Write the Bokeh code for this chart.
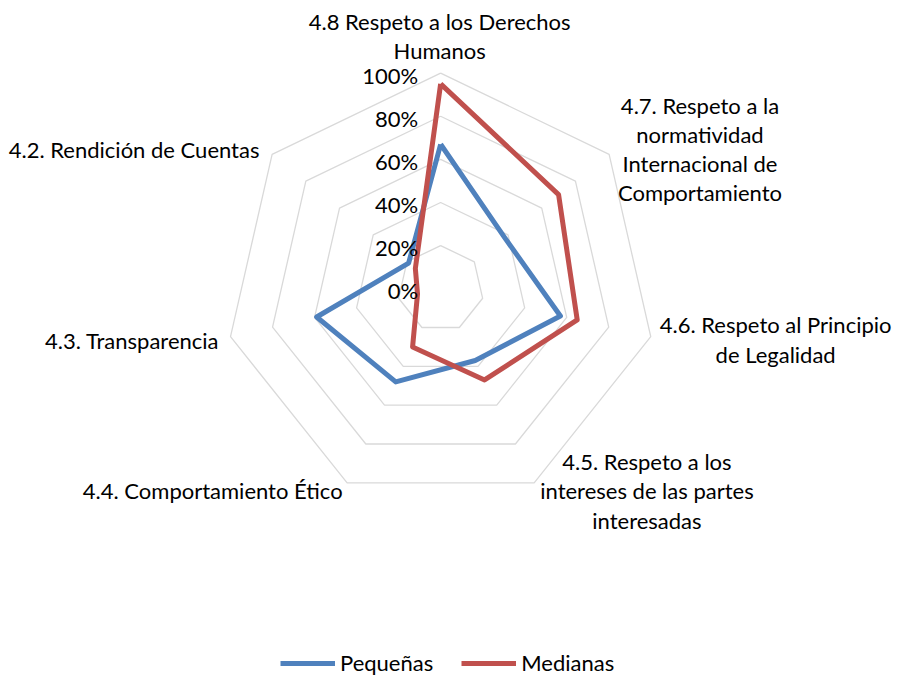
import math
from bokeh.plotting import figure
from bokeh.models import Legend, LegendItem
from bokeh.core.properties import value
from bokeh.embed import file_html
from bokeh.resources import INLINE

# ---- data ----
categories = [
    "4.8 Respeto a los Derechos\nHumanos",
    "4.7. Respeto a la\nnormatividad\nInternacional de\nComportamiento",
    "4.6. Respeto al Principio\nde Legalidad",
    "4.5. Respeto a los\nintereses de las partes\ninteresadas",
    "4.4. Comportamiento Ético",
    "4.3. Transparencia",
    "4.2. Rendición de Cuentas",
]
pequenas = [67, 38, 57, 37, 48, 59, 19]
medianas = [95, 70, 65, 47, 30, 11, 15]
tick_values = [0, 20, 40, 60, 80, 100]
tick_labels = ["0%", "20%", "40%", "60%", "80%", "100%"]
series_names = ["Pequeñas", "Medianas"]

# ---- layout / style ----
W, H = 895, 676
KX, KY = W / 911, H / 692
SCALE = 2.2 * (KX + KY) / 2     # px per percent
CXF, CYF = 448 * KX, 295 * KY   # centre in figure pixels
FONT = "Lato"
FS = "22px"
BLUE = "#4F81BD"
RED = "#C0504D"
GRID = "#D9D9D9"

def px(x, y):
    fx, fy = x * KX, y * KY
    return (fx - CXF) / SCALE, (CYF - fy) / SCALE

p = figure(width=W, height=H,
           x_range=(-CXF / SCALE, (W - CXF) / SCALE),
           y_range=((CYF - H) / SCALE, CYF / SCALE),
           output_backend="svg", toolbar_location=None,
           x_axis_location=None, y_axis_location=None, min_border=0)
p.outline_line_color = None
p.xgrid.visible = False
p.ygrid.visible = False

n = len(categories)
angles = [math.pi / 2 - 2 * math.pi * i / n for i in range(n)]

# grid rings
for t in tick_values[1:]:
    xs = [t * math.cos(a) for a in angles] + [t * math.cos(angles[0])]
    ys = [t * math.sin(a) for a in angles] + [t * math.sin(angles[0])]
    p.line(xs, ys, line_color=GRID, line_width=1.3)

def poly(vals):
    xs = [v * math.cos(a) for v, a in zip(vals, angles)]
    ys = [v * math.sin(a) for v, a in zip(vals, angles)]
    return xs + xs[:1], ys + ys[:1]

bx, by = poly(pequenas)
rx, ry = poly(medianas)
r1 = p.line(bx, by, line_color=BLUE, line_width=5, line_join="round")
r2 = p.line(rx, ry, line_color=RED, line_width=5, line_join="round")

# tick labels
p.text(x=[-22.5 / SCALE] * len(tick_values), y=[t - 2 / SCALE for t in tick_values],
       text=tick_labels, text_align="right", text_baseline="middle",
       text_font=value(FONT), text_font_size=FS, text_color="#000000")

# category labels (block centres, reference px)
label_pos = [(447, 36), (712, 152), (789, 347), (658, 502), (216, 502), (134, 348), (136, 153)]
lx = [px(a, b)[0] for a, b in label_pos]
ly = [px(a, b)[1] for a, b in label_pos]
p.text(x=lx, y=ly, text=categories, text_align="center", text_baseline="middle",
       text_font=value(FONT), text_font_size=FS, text_color="#000000",
       text_line_height=1.08)

legend = Legend(items=[LegendItem(label=series_names[0], renderers=[r1]),
                       LegendItem(label=series_names[1], renderers=[r2])],
                orientation="horizontal", location=(280, 0),
                glyph_width=55, glyph_height=20, label_standoff=5, spacing=28,
                padding=0, margin=0, border_line_color=None,
                background_fill_alpha=0,
                label_text_font=FONT, label_text_font_size=FS,
                label_text_color="#000000")
p.add_layout(legend)

open("out.html", "w").write(file_html(p, INLINE))
